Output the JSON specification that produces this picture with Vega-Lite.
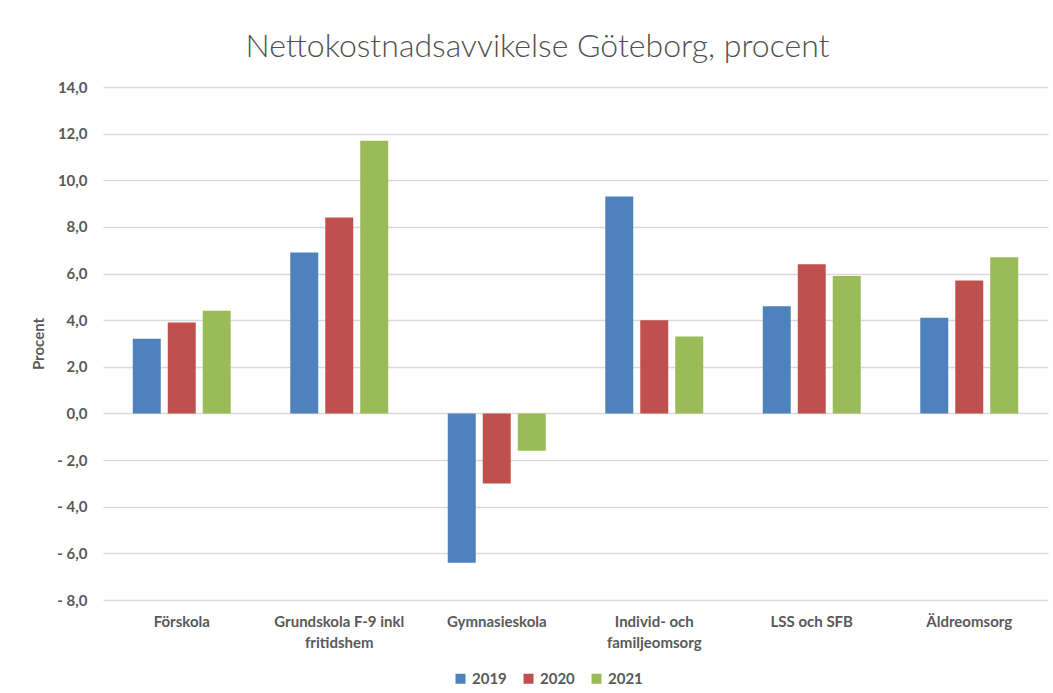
{
  "$schema": "https://vega.github.io/schema/vega-lite/v6.json",
  "autosize": {"type": "none"},
  "width": 945,
  "height": 513,
  "padding": {"left": 103, "top": 87, "right": 5, "bottom": 93},
  "background": "white",
  "title": {
    "text": "Nettokostnadsavvikelse Göteborg, procent",
    "font": "Lato",
    "fontSize": 32,
    "fontWeight": 300,
    "color": "#505050",
    "anchor": "middle",
    "frame": "group",
    "dx": -38,
    "offset": 16
  },
  "data": {
    "values": [
      {"verksamhet": "Förskola", "year": "2019", "value": 3.2},
      {"verksamhet": "Förskola", "year": "2020", "value": 3.9},
      {"verksamhet": "Förskola", "year": "2021", "value": 4.4},
      {"verksamhet": "Grundskola F-9 inkl fritidshem", "year": "2019", "value": 6.9},
      {"verksamhet": "Grundskola F-9 inkl fritidshem", "year": "2020", "value": 8.4},
      {"verksamhet": "Grundskola F-9 inkl fritidshem", "year": "2021", "value": 11.7},
      {"verksamhet": "Gymnasieskola", "year": "2019", "value": -6.4},
      {"verksamhet": "Gymnasieskola", "year": "2020", "value": -3.0},
      {"verksamhet": "Gymnasieskola", "year": "2021", "value": -1.6},
      {"verksamhet": "Individ- och familjeomsorg", "year": "2019", "value": 9.3},
      {"verksamhet": "Individ- och familjeomsorg", "year": "2020", "value": 4.0},
      {"verksamhet": "Individ- och familjeomsorg", "year": "2021", "value": 3.3},
      {"verksamhet": "LSS och SFB", "year": "2019", "value": 4.6},
      {"verksamhet": "LSS och SFB", "year": "2020", "value": 6.4},
      {"verksamhet": "LSS och SFB", "year": "2021", "value": 5.9},
      {"verksamhet": "Äldreomsorg", "year": "2019", "value": 4.1},
      {"verksamhet": "Äldreomsorg", "year": "2020", "value": 5.7},
      {"verksamhet": "Äldreomsorg", "year": "2021", "value": 6.7}
    ]
  },
  "mark": {"type": "bar"},
  "encoding": {
    "x": {
      "field": "verksamhet",
      "type": "nominal",
      "sort": null,
      "scale": {"paddingInner": 0.378, "paddingOuter": 0.189},
      "axis": {
        "title": null,
        "labelAngle": 0,
        "domain": false,
        "ticks": false,
        "labelPadding": 14,
        "labelFont": "Lato",
        "labelFontSize": 15,
        "labelFontWeight": "bold",
        "labelColor": "#595959",
        "labelLineHeight": 21,
        "labelBaseline": "top",
        "labelExpr": "datum.label == 'Grundskola F-9 inkl fritidshem' ? ['Grundskola F-9 inkl', 'fritidshem'] : datum.label == 'Individ- och familjeomsorg' ? ['Individ- och', 'familjeomsorg'] : datum.label"
      }
    },
    "xOffset": {
      "field": "year",
      "type": "nominal",
      "scale": {"paddingInner": 0.2, "paddingOuter": 0}
    },
    "y": {
      "field": "value",
      "type": "quantitative",
      "scale": {"domain": [-8, 14], "nice": false, "zero": false},
      "axis": {
        "title": "Procent",
        "titleFont": "Lato",
        "titleFontSize": 15,
        "titleFontWeight": "bold",
        "titleColor": "#595959",
        "titlePadding": 10,
        "values": [-8, -6, -4, -2, 0, 2, 4, 6, 8, 10, 12, 14],
        "labelExpr": "datum.value < 0 ? '- ' + replace(format(-datum.value, '.1f'), '.', ',') : replace(format(datum.value, '.1f'), '.', ',')",
        "labelFont": "Lato",
        "labelFontSize": 15,
        "labelFontWeight": "bold",
        "labelColor": "#595959",
        "labelPadding": 16,
        "domain": false,
        "ticks": false,
        "grid": true,
        "gridColor": "#d9d9d9",
        "gridWidth": 1.3
      }
    },
    "color": {
      "field": "year",
      "type": "nominal",
      "scale": {"domain": ["2019", "2020", "2021"], "range": ["#4F81BD", "#C0504D", "#9BBB59"]},
      "legend": {
        "title": null,
        "orient": "none",
        "direction": "horizontal",
        "legendX": 350,
        "legendY": 584,
        "symbolType": "square",
        "symbolSize": 100,
        "symbolStrokeWidth": 0,
        "labelFont": "Lato",
        "labelFontSize": 15,
        "labelFontWeight": "bold",
        "labelColor": "#595959",
        "labelOffset": 4,
        "columnPadding": 14
      }
    }
  },
  "config": {
    "view": {"stroke": null}
  }
}
